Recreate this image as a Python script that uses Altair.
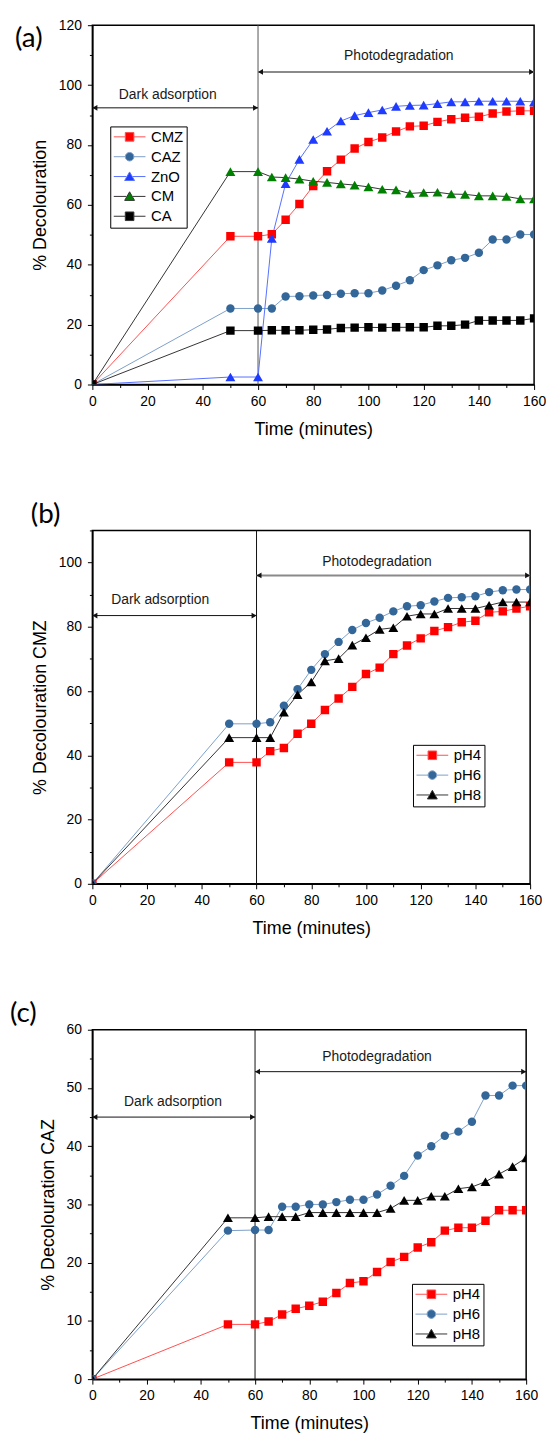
import altair as alt
import pandas as pd

# ---------------- data ----------------
TIME = [0, 50, 60, 65, 70, 75, 80, 85, 90, 95, 100, 105, 110, 115, 120,
        125, 130, 135, 140, 145, 150, 155, 160]

A_SERIES = ["CMZ", "CAZ", "ZnO", "CM", "CA"]
A_CMZ = [0, 49.5, 49.5, 50.2, 55.0, 60.3, 66.3, 71.2, 75.1, 78.8, 81.0, 82.5,
         84.5, 86.2, 86.4, 87.7, 88.6, 89.1, 89.4, 90.5, 91.2, 91.4, 91.4]
A_CAZ = [0, 25.4, 25.4, 25.4, 29.4, 29.5, 29.7, 29.9, 30.3, 30.5, 30.5, 31.4,
         33.0, 34.8, 38.2, 39.8, 41.5, 42.3, 44.0, 48.4, 48.4, 50.1, 50.1]
A_ZNO = [0, 2.5, 2.5, 48.8, 67.1, 75.2, 81.8, 84.6, 88.0, 89.8, 90.8, 91.7,
         92.9, 93.2, 93.3, 93.8, 94.4, 94.4, 94.6, 94.6, 94.6, 94.6, 94.4]
A_CM = [0, 71.1, 71.1, 69.3, 69.1, 68.6, 67.9, 67.5, 67.0, 66.6, 66.0, 65.2,
        65.0, 63.8, 64.1, 64.2, 63.6, 63.5, 63.0, 63.0, 62.8, 62.0, 62.0]
A_CA = [0, 18.0, 18.0, 18.1, 18.1, 18.1, 18.3, 18.4, 18.9, 19.0, 19.1, 19.0,
        19.1, 19.1, 19.1, 19.6, 19.6, 20.0, 21.4, 21.4, 21.4, 21.4, 22.1]

PH_SERIES = ["pH4", "pH6", "pH8"]
B_PH4 = [0, 37.8, 37.8, 41.3, 42.3, 46.7, 49.8, 54.1, 57.7, 61.3, 65.3, 67.3,
         71.5, 74.2, 76.4, 78.7, 79.9, 81.4, 81.9, 84.5, 84.8, 85.7, 86.4]
B_PH6 = [0, 49.8, 49.8, 50.3, 55.4, 60.6, 66.6, 71.5, 75.3, 79.0, 81.2, 82.8,
         84.8, 86.4, 86.7, 87.9, 89.0, 89.2, 89.5, 90.8, 91.4, 91.6, 91.6]
B_PH8 = [0, 45.5, 45.5, 45.5, 53.4, 58.9, 62.8, 69.4, 70.1, 74.3, 76.6, 79.2,
         79.7, 83.3, 84.0, 84.0, 85.7, 85.7, 85.7, 86.7, 87.7, 87.7, 87.7]

C_PH4 = [0, 9.4, 9.4, 9.9, 11.1, 12.1, 12.6, 13.3, 14.8, 16.5, 16.8, 18.4,
         20.1, 21.0, 22.6, 23.5, 25.5, 26.0, 26.0, 27.2, 29.0, 29.0, 29.0]
C_PH6 = [0, 25.5, 25.6, 25.6, 29.6, 29.6, 30.0, 30.0, 30.4, 30.8, 30.8, 31.7,
         33.2, 34.9, 38.4, 40.0, 41.8, 42.5, 44.2, 48.7, 48.7, 50.4, 50.4]
C_PH8 = [0, 27.7, 27.7, 27.9, 27.9, 27.9, 28.6, 28.6, 28.6, 28.6, 28.6, 28.6,
         29.3, 30.7, 30.7, 31.4, 31.4, 32.7, 33.0, 33.9, 35.2, 36.5, 38.0]

PHASE_LABELS = ["Dark adsorption", "Photodegradation"]
PHASE_START = [0, 60]
PHASE_END = [60, 160]
SWITCH_TIME = [60]

A_ARROW_Y = [92.4, 104.4]
A_TEXT_T = [27.3, 111.0]
A_TEXT_Y = [96.7, 109.7]
B_ARROW_Y = [83.5, 96.0]
B_TEXT_T = [24.8, 104.0]
B_TEXT_Y = [88.2, 100.3]
C_ARROW_Y = [45.0, 52.8]
C_TEXT_T = [29.7, 105.0]
C_TEXT_Y = [47.6, 55.3]

X_MAJOR = list(range(0, 161, 20))
X_MINOR = list(range(10, 160, 20))

# ---------------- styles ----------------
FONT = "Liberation Sans"
SQ = "M-1,0L-0.27,0M0.27,0L1,0M-0.27,-0.27L0.27,-0.27L0.27,0.27L-0.27,0.27Z"
CI = "M-1,0L-0.27,0M0.27,0L1,0M-0.27,0A0.27,0.27,0,1,1,0.27,0A0.27,0.27,0,1,1,-0.27,0Z"
TR = "M-1,0L-0.2,0M0.2,0L1,0M0,-0.29L0.31,0.25L-0.31,0.25Z"

STYLE = {
    "CMZ": dict(fill="#FF0000", line="#FF5050", shape="square", size=72, path=SQ),
    "CAZ": dict(fill="#336699", line="#7D9FC9", shape="circle", size=72, path=CI),
    "ZnO": dict(fill="#1F3BFF", line="#5670FF", shape="triangle-up", size=100, path=TR),
    "CM": dict(fill="#008000", line="#333333", shape="triangle-up", size=100, path=TR),
    "CA": dict(fill="#000000", line="#333333", shape="square", size=72, path=SQ),
    "pH4": dict(fill="#FF0000", line="#FF5050", shape="square", size=72, path=SQ),
    "pH6": dict(fill="#336699", line="#7D9FC9", shape="circle", size=72, path=CI),
    "pH8": dict(fill="#000000", line="#333333", shape="triangle-up", size=100, path=TR),
}


def major_axis(title, values, orient, pad, tpad):
    return alt.Axis(
        title=title, values=values, orient=orient, tickSize=5,
        labelFlush=False, labelOverlap=False, grid=False,
        domainColor="black", domainWidth=1.5, tickColor="black", tickWidth=1,
        labelFont=FONT, labelFontSize=14, labelColor="black", labelPadding=pad,
        titleFont=FONT, titleFontSize=18, titleFontWeight="normal",
        titleColor="black", titlePadding=tpad)


def minor_axis(values, orient):
    return alt.Axis(title=None, values=values, orient=orient, tickSize=3,
                    labels=False, domain=False, grid=False, tickColor="black",
                    tickWidth=1)


def panel(names, values, ymax, ymajor, yminor, ytitle, w, h, arrow_y, text_t,
          text_y, photo_color, photo_width, vline_color, tag, tag_x, tag_y,
          leg_x, leg_y):
    xs = alt.Scale(domain=[0, 160], nice=False, zero=False)
    ys = alt.Scale(domain=[0, ymax], nice=False, zero=False)
    y_major = list(range(0, ymax + 1, ymajor))
    y_minor = [v for v in range(0, ymax + 1, yminor) if v % ymajor != 0]

    rows = []
    for n, vals in zip(names, values):
        for t, v in zip(TIME, vals):
            rows.append({"t": t, "v": v, "series": n})
    df = pd.DataFrame(rows)

    def X(field, axis=None):
        return alt.X(field, type="quantitative", scale=xs, axis=axis)

    def Y(field, axis=None):
        return alt.Y(field, type="quantitative", scale=ys, axis=axis)

    layers = []
    # phase switch line (carries the major axes)
    vdf = pd.DataFrame({"t": SWITCH_TIME, "lo": [0], "hi": [ymax]})
    layers.append(
        alt.Chart(vdf).mark_rule(color=vline_color, strokeWidth=1).encode(
            x=X("t", major_axis("Time (minutes)", X_MAJOR, "bottom", 5, 12)),
            y=Y("lo", major_axis(ytitle, y_major, "left", 6, 9)), y2="hi"))

    # phase texts (carry the minor tick axes)
    tdf = pd.DataFrame({"t": text_t, "v": text_y, "label": PHASE_LABELS})
    layers.append(alt.Chart(tdf).mark_text(font=FONT, fontSize=14, color="#1a1a1a").encode(
        x=X("t", minor_axis(X_MINOR, "bottom")),
        y=Y("v", minor_axis(y_minor, "left")), text="label:N"))

    # phase arrows
    adf = pd.DataFrame({"start": PHASE_START, "end": PHASE_END, "y": arrow_y,
                        "phase": PHASE_LABELS})
    colors = ["#111111", photo_color]
    widths = [1, photo_width]
    for i, ph in enumerate(PHASE_LABELS):
        sub = alt.Chart(adf).transform_filter(alt.datum.phase == ph)
        layers.append(sub.mark_rule(color=colors[i], strokeWidth=widths[i]).encode(
            x=X("start"), x2="end", y=Y("y")))
        layers.append(sub.mark_point(shape="triangle-left", filled=True, size=34,
                                     color="#111111", opacity=1, xOffset=2.5).encode(
            x=X("start"), y=Y("y")))
        layers.append(sub.mark_point(shape="triangle-right", filled=True, size=34,
                                     color="#111111", opacity=1, xOffset=-2.5).encode(
            x=X("end"), y=Y("y")))

    # series lines
    for n in names:
        st = STYLE[n]
        layers.append(alt.Chart(df).transform_filter(alt.datum.series == n).mark_line(
            color=st["line"], strokeWidth=1, clip=True).encode(x=X("t"), y=Y("v")))
    # series markers
    for n in names:
        st = STYLE[n]
        layers.append(alt.Chart(df).transform_filter(alt.datum.series == n).mark_point(
            shape=st["shape"], filled=True, size=st["size"], color=st["fill"],
            opacity=1, clip=True).encode(x=X("t"), y=Y("v")))

    # legend carrier (no marks drawn)
    leg = alt.Legend(title=None, orient="none", legendX=leg_x, legendY=leg_y,
                     labelFont=FONT, labelFontSize=15, labelColor="black",
                     symbolSize=1024, symbolStrokeWidth=1, strokeColor="black",
                     fillColor="white", padding=3, rowPadding=4, labelOffset=5,
                     symbolOffset=0, offset=0, clipHeight=15)
    layers.append(alt.Chart(df).transform_filter("datum.t < 0").mark_point(
        filled=True, opacity=1, strokeWidth=1, size=1024).encode(
        x=X("t"), y=Y("v"),
        shape=alt.Shape("series:N", scale=alt.Scale(domain=names, range=[STYLE[n]["path"] for n in names]), legend=leg),
        fill=alt.Fill("series:N", scale=alt.Scale(domain=names, range=[STYLE[n]["fill"] for n in names]), legend=leg),
        stroke=alt.Stroke("series:N", scale=alt.Scale(domain=names, range=[STYLE[n]["line"] for n in names]), legend=leg),
    ))

    # panel tag
    layers.append(alt.Chart(pd.DataFrame({"tag": [tag]})).mark_text(
        align="left", baseline="middle", font="Lato", fontSize=28, color="black").encode(
        x=alt.value(tag_x), y=alt.value(tag_y), text="tag:N"))

    return alt.layer(*layers).resolve_axis(x="independent", y="independent").properties(
        width=w, height=h)


pa = panel(A_SERIES, [A_CMZ, A_CAZ, A_ZNO, A_CM, A_CA], 120, 20, 10,
           "% Decolouration", 445, 362, A_ARROW_Y, A_TEXT_T, A_TEXT_Y,
           "#8a8a8a", 2, "#555555", "(a)", -78, 14, 18, 102)
pb = panel(PH_SERIES, [B_PH4, B_PH6, B_PH8], 110, 20, 10,
           "% Decolouration CMZ", 441, 356, B_ARROW_Y, B_TEXT_T, B_TEXT_Y,
           "#8a8a8a", 2, "#111111", "(b)", -62, -15, 323, 216)
pc = panel(PH_SERIES, [C_PH4, C_PH6, C_PH8], 60, 10, 5,
           "% Decolouration CAZ", 437, 352, C_ARROW_Y, C_TEXT_T, C_TEXT_Y,
           "#111111", 1, "#111111", "(c)", -83, -16, 322, 256)

chart = alt.vconcat(pa, pb, pc, spacing=147, bounds="flush").resolve_scale(
    shape="independent", fill="independent", stroke="independent"
).properties(
    padding={"left": 1, "top": 4, "right": 0, "bottom": 0}
).configure_view(stroke="black", strokeWidth=1.5)

chart.save("out.html", embed_options={"renderer": "svg", "actions": False})
